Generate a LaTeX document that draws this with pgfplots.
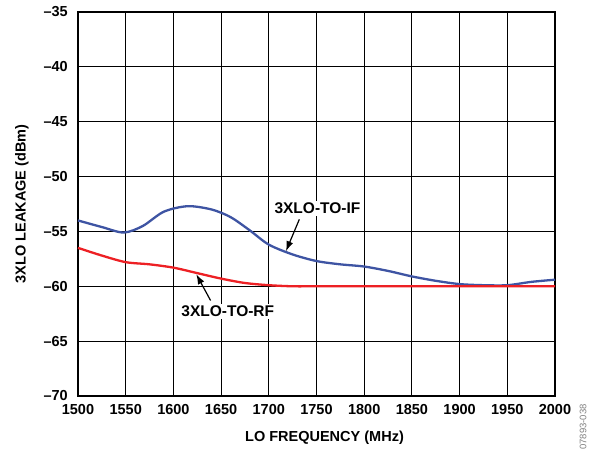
\documentclass[border=0pt]{standalone}
\usepackage{fontspec}
\setmainfont{Liberation Sans}
\usepackage{pgfplots}
\pgfplotsset{compat=1.18}
\usetikzlibrary{arrows.meta}
\definecolor{ifblue}{RGB}{62,84,163}
\definecolor{rfred}{RGB}{237,32,36}
\begin{document}
\begin{tikzpicture}
\useasboundingbox (-78pt,-56pt) rectangle (511pt,396pt);
\begin{axis}[
  at={(0,0)}, anchor=south west,
  scale only axis,
  width=477pt, height=384pt,
  xmin=1500, xmax=2000,
  ymin=-70, ymax=-35,
  xtick={1500,1550,...,2000},
  ytick={-70,-65,...,-35},
  yticklabels={\textendash70,\textendash65,\textendash60,\textendash55,\textendash50,\textendash45,\textendash40,\textendash35},
  xticklabel style={font=\bfseries\fontsize{14.5}{15}\selectfont, anchor=center, yshift=-14pt},
  yticklabel style={font=\bfseries\fontsize{14.5}{15}\selectfont, anchor=east, inner sep=0pt, xshift=-10pt},
  /pgf/number format/assume math mode=true,
  /pgf/number format/1000 sep={},
  major tick length=0pt,
  xmajorgrids, ymajorgrids,
  grid style={black, line width=1pt},
  axis line style={black, line width=1.4pt},
  xlabel={\bfseries LO FREQUENCY (MHz)},
  ylabel={\bfseries 3XLO LEAKAGE (dBm)},
  label style={font=\bfseries\fontsize{14.5}{15}\selectfont},
  xlabel style={at={(axis description cs:0.5,0)}, anchor=center, yshift=-42pt, xshift=8pt},
  ylabel style={at={(axis description cs:0,0.5)}, anchor=center, yshift=56pt},
  clip=false,
]
\addplot[ifblue, line width=2.3pt, smooth, tension=0.5] coordinates {
  (1500,-54.0)(1525,-54.6)(1548,-55.1)(1568,-54.5)(1590,-53.2)
  (1615,-52.7)(1640,-53.0)(1660,-53.7)(1680,-54.9)(1700,-56.2)(1725,-57.1)
  (1750,-57.7)(1775,-58.0)(1800,-58.2)(1825,-58.6)(1850,-59.1)(1875,-59.5)
  (1900,-59.8)(1925,-59.9)(1950,-59.9)(1975,-59.6)(2000,-59.4)};
\addplot[rfred, line width=2.3pt, smooth, tension=0.5] coordinates {
  (1500,-56.5)(1525,-57.2)(1550,-57.8)(1575,-58.0)(1600,-58.3)(1625,-58.8)
  (1650,-59.3)(1675,-59.7)(1700,-59.9)(1725,-60)(1750,-60)(1800,-60)
  (1850,-60)(1900,-60)(1950,-60)(2000,-60)};
\draw[-{Latex[length=10pt,width=7pt]}, line width=1.2pt] (axis cs:1732,-53.9) -- (axis cs:1718,-56.8);
\draw[-{Latex[length=10pt,width=7pt]}, line width=1.2pt] (axis cs:1639,-61.3) -- (axis cs:1624,-58.9);
\node[fill=white, inner sep=2pt, font=\bfseries\fontsize{15.5}{16}\selectfont] at (axis cs:1751,-52.9) {3XLO-TO-IF};
\node[fill=white, inner sep=2pt, font=\bfseries\fontsize{15.5}{16}\selectfont] at (axis cs:1657,-62.3) {3XLO-TO-RF};
\node[rotate=90, gray, font=\fontsize{9.5}{10}\selectfont, anchor=west, inner sep=0pt] at ([xshift=28pt,yshift=-54pt]rel axis cs:1,0) {07893-038};
\end{axis}
\end{tikzpicture}
\end{document}
